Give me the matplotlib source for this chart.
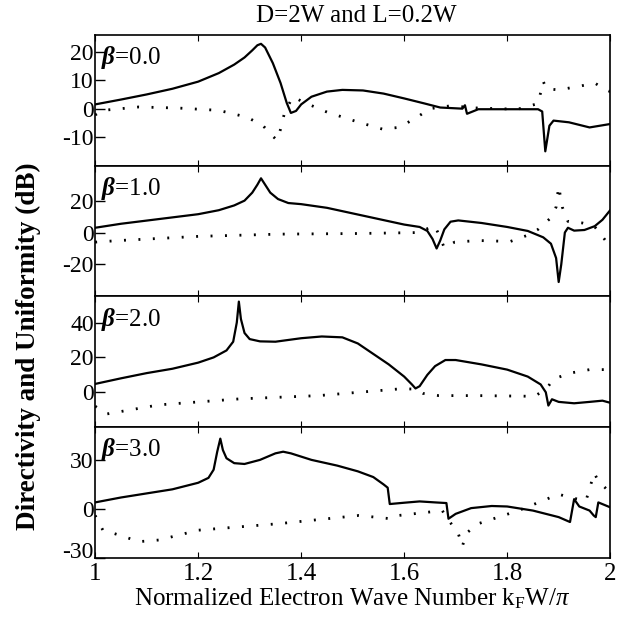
import matplotlib
matplotlib.use("Agg")
import matplotlib.pyplot as plt

plt.rcParams["font.family"] = ["Liberation Serif", "DejaVu Serif"]
plt.rcParams["mathtext.fontset"] = "custom"
plt.rcParams["mathtext.rm"] = "Liberation Serif"
plt.rcParams["mathtext.it"] = "Liberation Serif:italic"
plt.rcParams["mathtext.bf"] = "Liberation Serif:bold:italic"
plt.rcParams["axes.unicode_minus"] = False

# values (x = k_F W / pi)
b0_solid_x = [1.0, 1.05, 1.1, 1.15, 1.2, 1.24, 1.27, 1.29, 1.305, 1.315, 1.322, 1.33,
              1.345, 1.36, 1.372, 1.38, 1.39, 1.40, 1.42, 1.45, 1.48, 1.52, 1.56, 1.6,
              1.64, 1.67, 1.713, 1.718, 1.722, 1.744, 1.86, 1.868, 1.874, 1.882, 1.89,
              1.92, 1.96, 2.0]
b0_solid_y = [1.5, 3.2, 5.0, 7.0, 9.5, 12.5, 15.5, 18.0, 20.5, 22.3, 22.8, 21.5,
              16.0, 9.0, 2.0, -1.5, -0.8, 1.5, 4.2, 6.0, 6.6, 6.4, 5.3, 3.6,
              1.8, 0.4, 0.0, 1.2, -1.8, -0.2, -0.2, -1.0, -15.0, -6.0, -4.2,
              -4.8, -6.6, -5.4]
b0_dot_x = [1.0, 1.015, 1.085, 1.163, 1.24, 1.295, 1.326, 1.341, 1.353, 1.36, 1.368,
            1.384, 1.403, 1.45, 1.512, 1.558, 1.589, 1.62, 1.65, 1.69, 1.744, 1.82,
            1.86, 1.87, 1.876, 1.9, 1.938, 1.97, 1.992, 2.0]
b0_dot_y = [-2.2, -0.6, 0.6, 0.2, -0.6, -3.0, -6.0, -9.0, -11.1, -7.2, -1.2,
            4.2, 2.4, -1.2, -4.8, -7.2, -6.6, -3.6, 0.0, 1.0, 0.2, -0.2,
            1.8, 9.6, 7.0, 6.6, 7.8, 9.0, 6.6, 6.0]

b1_solid_x = [1.0, 1.05, 1.1, 1.15, 1.2, 1.24, 1.27, 1.29, 1.305, 1.315, 1.322, 1.33,
              1.34, 1.355, 1.375, 1.4, 1.45, 1.5, 1.55, 1.6, 1.63, 1.645, 1.655, 1.663,
              1.67, 1.678, 1.69, 1.705, 1.75, 1.8, 1.84, 1.87, 1.885, 1.895, 1.9,
              1.905, 1.912, 1.918, 1.93, 1.95, 1.97, 1.985, 2.0]
b1_solid_y = [3.0, 5.5, 7.5, 9.5, 11.5, 14.0, 17.0, 20.0, 25.0, 30.0, 34.0, 30.0,
              25.0, 21.0, 18.5, 17.8, 15.5, 12.0, 8.5, 5.0, 3.5, 1.0, -4.0, -10.0,
              -5.0, 2.0, 6.8, 7.6, 6.0, 3.5, 1.0, -3.0, -7.0, -16.0, -31.0,
              -20.0, 0.0, 3.0, 1.2, 1.6, 4.0, 8.0, 14.0]
b1_dot_x = [1.0, 1.047, 1.2, 1.357, 1.512, 1.628, 1.659, 1.667, 1.678, 1.698, 1.744,
            1.806, 1.837, 1.86, 1.884, 1.895, 1.9, 1.907, 1.918, 1.946, 1.969, 1.984, 2.0]
b1_dot_y = [-6.0, -5.0, -2.4, -1.0, -0.6, 0.0, 4.4, -1.0, -9.6, -6.0, -5.0,
            -5.6, -2.0, 2.0, 9.0, 16.0, 29.0, 16.0, 7.0, 6.0, 4.0, -2.0, -9.0]

b2_solid_x = [1.0, 1.05, 1.1, 1.15, 1.2, 1.23, 1.255, 1.268, 1.275, 1.279, 1.283, 1.29,
              1.3, 1.32, 1.35, 1.4, 1.44, 1.48, 1.51, 1.54, 1.57, 1.6, 1.615, 1.622,
              1.63, 1.645, 1.66, 1.68, 1.7, 1.75, 1.8, 1.84, 1.865, 1.875, 1.88,
              1.887, 1.9, 1.93, 1.96, 1.985, 2.0]
b2_solid_y = [4.8, 8.0, 11.0, 13.5, 17.0, 20.0, 24.0, 29.0, 40.0, 52.0, 42.0, 34.0,
              30.5, 29.2, 29.0, 31.0, 32.0, 31.5, 28.0, 22.0, 16.0, 9.0, 4.5, 2.2,
              3.5, 10.0, 15.0, 18.5, 18.5, 16.0, 13.0, 9.0, 4.5, 0.0, -7.6,
              -4.0, -5.5, -6.3, -5.5, -4.8, -6.0]
b2_dot_x = [1.0, 1.023, 1.124, 1.279, 1.434, 1.589, 1.62, 1.636, 1.667, 1.744, 1.853,
            1.876, 1.89, 1.922, 1.96, 2.0]
b2_dot_y = [-8.0, -12.4, -7.2, -3.8, -1.9, 1.9, 1.9, -0.6, -1.9, -1.9, -2.3,
            1.9, 7.6, 11.0, 13.0, 13.0]

b3_solid_x = [1.0, 1.05, 1.1, 1.15, 1.2, 1.22, 1.23, 1.237, 1.243, 1.248, 1.255, 1.27,
              1.29, 1.32, 1.35, 1.365, 1.38, 1.42, 1.47, 1.51, 1.54, 1.56, 1.568,
              1.572, 1.6, 1.63, 1.66, 1.682, 1.686, 1.7, 1.73, 1.77, 1.8, 1.85, 1.9,
              1.922, 1.93, 1.94, 1.96, 1.968, 1.972, 1.977, 2.0]
b3_solid_y = [4.0, 7.0, 9.5, 12.0, 16.0, 19.0, 24.0, 35.0, 43.0, 36.0, 31.0, 28.0,
              27.5, 30.0, 34.0, 35.0, 34.0, 30.0, 26.5, 23.0, 19.5, 15.0, 13.0,
              3.0, 3.8, 4.6, 4.0, 3.6, -6.0, -3.0, 0.5, 1.8, 1.5, -1.0, -5.0,
              -8.0, 6.0, 1.5, -1.0, -4.0, -5.0, 4.0, 1.0]
b3_dot_x = [1.0, 1.015, 1.047, 1.085, 1.124, 1.2, 1.357, 1.512, 1.574, 1.589, 1.674,
            1.682, 1.705, 1.713, 1.72, 1.744, 1.822, 1.9, 1.922, 1.953, 1.969, 1.977, 2.0]
b3_dot_y = [-4.0, -13.0, -16.0, -20.0, -19.0, -13.0, -9.0, -4.0, -6.0, -4.0, -1.0,
            -5.0, -15.0, -23.0, -15.0, -9.0, -1.0, 9.0, 7.0, 5.0, 22.0, 17.0, 10.0]

panels = [
    ("0.0", b0_solid_x, b0_solid_y, b0_dot_x, b0_dot_y, (-20, 26), [-10, 0, 10, 20]),
    ("1.0", b1_solid_x, b1_solid_y, b1_dot_x, b1_dot_y, (-40, 42), [-20, 0, 20]),
    ("2.0", b2_solid_x, b2_solid_y, b2_dot_x, b2_dot_y, (-20, 55), [0, 20, 40]),
    ("3.0", b3_solid_x, b3_solid_y, b3_dot_x, b3_dot_y, (-30, 50), [-30, 0, 30]),
]
x_ticks = [1.0, 1.2, 1.4, 1.6, 1.8, 2.0]
x_ticklabels = ["1", "1.2", "1.4", "1.6", "1.8", "2"]

fig, axes = plt.subplots(4, 1, figsize=(6.22, 6.2), dpi=100, sharex=True)
fig.subplots_adjust(left=0.153, right=0.981, bottom=0.1, top=0.944, hspace=0)

for ax, (beta, sx, sy, dx, dy, ylim, yticks) in zip(axes, panels):
    ax.plot(sx, sy, color="black", lw=1.6)
    ax.plot(dx, dy, color="black", lw=2.0, linestyle=(0, (0.7, 4.5)))
    ax.set_xlim(1, 2)
    ax.set_ylim(*ylim)
    ax.set_yticks(yticks)
    ax.set_yticklabels([str(t) for t in yticks], fontsize=17)
    ax.set_xticks(x_ticks)
    ax.tick_params(axis="y", direction="in", length=7, width=1, pad=1)
    ax.tick_params(axis="x", direction="in", length=4, width=0.8, top=True)
    ax.text(0.012, 0.93, r"$\mathbf{\beta}$" + "=" + beta, transform=ax.transAxes,
            fontsize=18, va="top", ha="left")
    for s in ax.spines.values():
        s.set_linewidth(1.2)

# bottom-left "-30" sits just above the corner, clear of the "1"
axes[-1].get_yticklabels()[0].set_verticalalignment("baseline")

axes[-1].set_xticklabels(x_ticklabels, fontsize=18)
axes[-1].set_xlabel(r"Normalized Electron Wave Number k$_{\mathrm{F}}$W/$\pi$",
                    fontsize=18, labelpad=1)
fig.text(0.045, 0.442, "Directivity and Uniformity (dB)", rotation=90, fontsize=19.5,
         fontweight="bold", ha="center", va="center")
fig.text(0.573, 0.975, "D=2W and L=0.2W", fontsize=18, ha="center", va="center")

fig.savefig("out.png", dpi=100)
